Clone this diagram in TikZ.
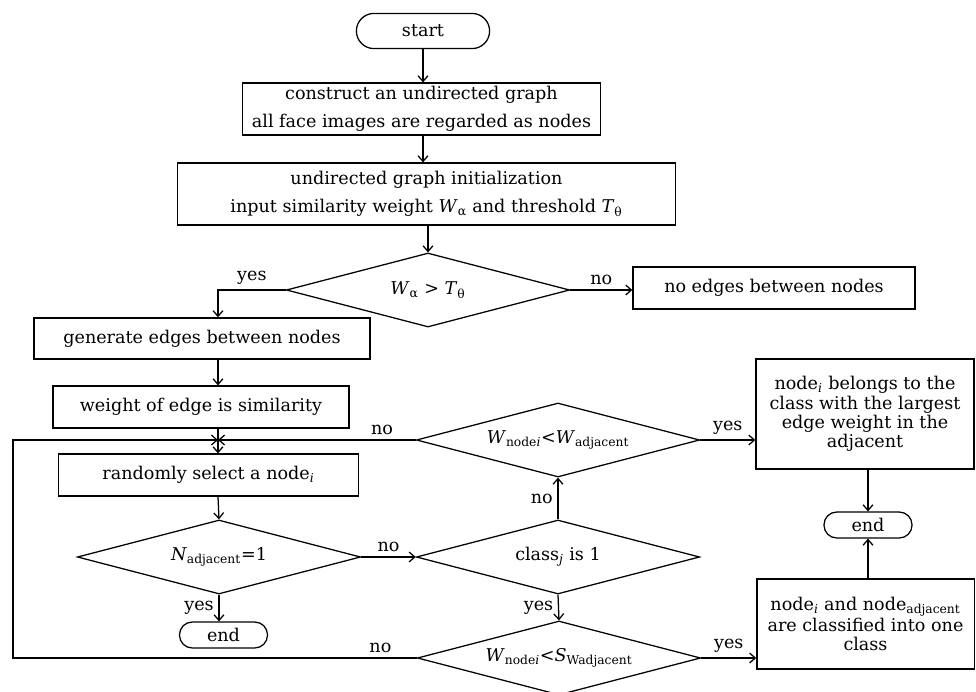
\documentclass[tikz,border=0pt]{standalone}
\usepackage{fontspec}
\setmainfont{DejaVu Serif}
\usetikzlibrary{shapes.geometric,arrows.meta}
\newcommand{\sub}[1]{\textsubscript{#1}}

\begin{document}
\begin{tikzpicture}[x=0.025cm, y=-0.025cm, line width=0.9pt, >={Straight Barb[length=4pt,width=7pt]},
    every node/.style={font=\fontsize{12.5}{20}\selectfont},
    box/.style={draw, rectangle, align=center, inner sep=1pt},
    tall/.style={box, font=\fontsize{12.5}{13.8}\selectfont},
    term/.style={draw, rectangle, rounded corners=0.32cm, minimum width=2.2cm, minimum height=0.65cm, inner sep=0pt},
    test/.style={draw, diamond, aspect=3.8, inner sep=0pt, minimum width=7.08cm, minimum height=1.85cm}]
  \useasboundingbox (0,0) rectangle (976,692);

  % main column
  \node[term, rounded corners=0.44cm, minimum width=3.33cm, minimum height=0.88cm] (start) at (423,31) {start};
  \node[box, minimum width=8.93cm, minimum height=1.3cm] (build) at (421.5,109)
    {construct an undirected graph\\all face images are regarded as nodes};
  \node[box, minimum width=12.43cm, minimum height=1.55cm] (init) at (426.5,194)
    {undirected graph initialization\\input similarity weight \textit{W}\sub{α} and threshold \textit{T}\sub{θ}};
  \node[test] (cmp) at (428,290) {\textit{W}\sub{α} > \textit{T}\sub{θ}};
  \node[box, minimum width=7.05cm, minimum height=1.05cm] (noedge) at (774,288) {no edges between nodes};

  % left column
  \node[box, minimum width=8.4cm, minimum height=1.03cm] (gen) at (202,338.5) {generate edges between nodes};
  \node[box, minimum width=7.4cm, minimum height=1.05cm] (weight) at (201,407) {weight of edge is similarity};
  \coordinate (sp) at (218,440);
  \coordinate (lp) at (13,440);
  \node[box, minimum width=7.48cm, minimum height=1.05cm] (pick) at (208.5,475) {randomly select a node\sub{\textit{i}}};
  \node[test] (single) at (219,557) {\textit{N}\sub{adjacent}=1};
  \node[term] (endA) at (223.5,635) {end};

  % middle column
  \node[test] (chk) at (558,440) {\textit{W}\sub{node\textit{i}}<\textit{W}\sub{adjacent}};
  \node[test] (cls) at (558,557) {class\sub{\textit{j}} is 1};
  \node[test] (sim) at (559,658) {\textit{W}\sub{node\textit{i}}<\textit{S}\sub{Wadjacent}};

  % right column
  \node[tall, minimum width=5.45cm, minimum height=2.75cm] (belong) at (865,414)
    {node\sub{\textit{i}} belongs to the\\class with the largest\\edge weight in the\\adjacent};
  \node[term] (endB) at (868,525) {end};
  \node[tall, minimum width=5.43cm, minimum height=2.25cm] (merge) at (865.5,624)
    {node\sub{\textit{i}} and node\sub{adjacent}\\are classified into one\\class};

  % connectors
  \draw[->] (start.south) -- (start.south |- build.north);
  \draw[->] (start.south |- build.south) -- (start.south |- init.north);
  \draw[->] (cmp.north |- init.south) -- (cmp.north);
  \draw[->] (cmp.west) -| (gen.north -| sp) node[pos=0.25, above] {yes};
  \draw[->] (cmp.east) -- (noedge.west |- cmp.east) node[midway, above] {no};
  \draw[->] (gen.south -| sp) -- (weight.north -| sp);
  \draw[->] (weight.south -| sp) -- (pick.north -| sp);
  \draw[->] (chk.west) -- (sp) node[pos=0.17, above] {no};
  \draw[->] (sim.west) -- (lp |- sim.west) node[pos=0.09, above] {no} -- (lp) -- (sp);
  \draw[->] (pick.south -| sp) -- (single.north);
  \draw[->] (single.south) -- (endA.north -| single.south) node[midway, left] {yes};
  \draw[->] (single.east) -- (cls.west) node[midway, above] {no};
  \draw[->] (cls.north) -- (chk.south) node[midway, left] {no};
  \draw[->] (cls.south) -- (sim.north) node[midway, left] {yes};
  \draw[->] (chk.east) -- (chk.east -| belong.west) node[midway, above] {yes};
  \draw[->] (sim.east) -- (sim.east -| merge.west) node[midway, above] {yes};
  \draw[->] (belong.south -| endB) -- (endB.north);
  \draw[->] (merge.north -| endB) -- (endB.south);
\end{tikzpicture}
\end{document}
